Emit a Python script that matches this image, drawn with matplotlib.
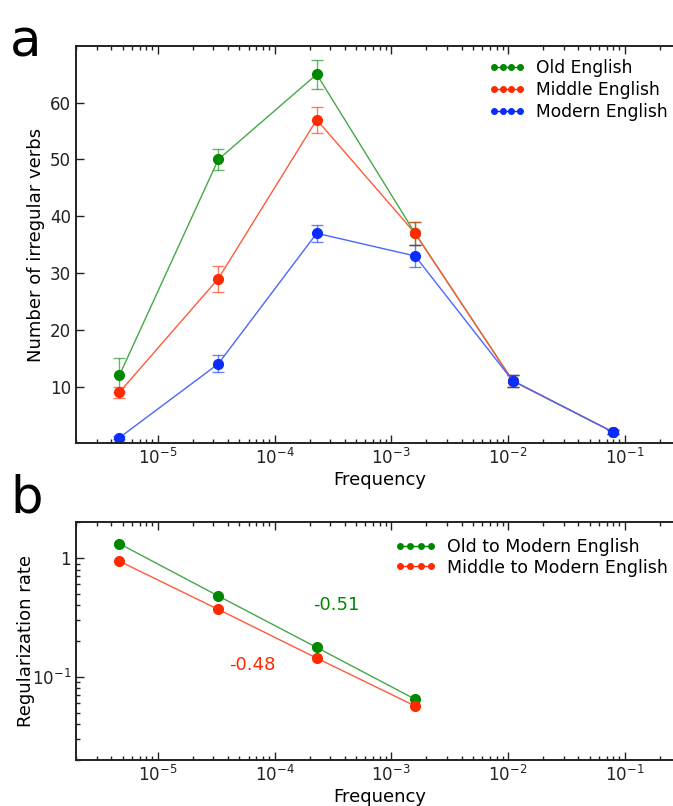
"""irregular verbs by frequency bin, Old / Middle / Modern English"""
import numpy as np
import matplotlib
matplotlib.use("Agg")
import matplotlib.pyplot as plt

# frequency bins (centres)
freq = [4.7e-6, 3.3e-5, 2.3e-4, 1.6e-3, 1.1e-2, 7.9e-2]

old_english = [12, 50, 65, 37, 11, 2]
old_err = [3.0, 1.8, 2.5, 2.0, 1.1, 0.3]
middle_english = [9, 29, 57, 37, 11, 2]
middle_err = [1.0, 2.3, 2.3, 2.0, 1.1, 0.3]
modern_english = [1, 14, 37, 33, 11, 2]
modern_err = [0.3, 1.5, 1.5, 2.0, 1.1, 0.3]

# regularization rates (first four bins)
rate_freq = freq[:4]
old_to_modern = [1.32, 0.48, 0.177, 0.065]
middle_to_modern = [0.94, 0.37, 0.144, 0.057]
slope_old = "-0.51"
slope_middle = "-0.48"

GREEN = "#008800"
RED = "#ff2a00"
BLUE = "#0a2cff"
# thinner connecting lines are drawn in lighter tones
LIGHT = {GREEN: "#45a845", RED: "#ff5a3a", BLUE: "#4a66ff"}

plt.rcParams["font.family"] = "DejaVu Sans"
plt.rcParams["xtick.direction"] = "in"
plt.rcParams["ytick.direction"] = "in"

fig = plt.figure(figsize=(6.73, 8.06), dpi=100)

ax1 = fig.add_axes([0.113, 0.450, 0.902, 0.493])
ax2 = fig.add_axes([0.113, 0.057, 0.902, 0.295])


def style_axis(ax):
    ax.set_xscale("log")
    ax.set_xlim(10 ** -5.7, 10 ** -0.5)
    ax.set_xticks([1e-5, 1e-4, 1e-3, 1e-2, 1e-1])
    ax.set_xticklabels([r"$\mathregular{10^{-%d}}$" % k for k in range(5, 0, -1)])
    ax.tick_params(which="both", top=True, right=True, labelsize=12, width=1, colors="#222222")
    ax.tick_params(which="major", length=6)
    ax.tick_params(which="minor", length=3)
    for s in ax.spines.values():
        s.set_linewidth(1.4)
        s.set_color("#222222")
    ax.set_xlabel("Frequency", fontsize=13, labelpad=2)


# panel a
series = [
    (old_english, old_err, GREEN, "Old English"),
    (middle_english, middle_err, RED, "Middle English"),
    (modern_english, modern_err, BLUE, "Modern English"),
]
for vals, err, col, lab in series:
    ax1.errorbar(freq, vals, yerr=err, fmt="none", ecolor=col, elinewidth=1,
                 capsize=4, capthick=1, alpha=0.6)
    ax1.plot(freq, vals, "-", color=LIGHT[col], lw=1)
    ax1.plot(freq, vals, "o", color=col, ms=7, mec=col)
    ax1.plot([], [], "-o", color=col, ms=4, lw=1, label=lab)

style_axis(ax1)
ax1.set_ylim(0, 70)
ax1.set_yticks([10, 20, 30, 40, 50, 60])
ax1.set_ylabel("Number of irregular verbs", fontsize=13)
ax1.legend(loc="upper right", bbox_to_anchor=(1.0, 1.005), frameon=False, numpoints=4,
           fontsize=12.3, handlelength=2.1, handletextpad=0.65, labelspacing=0.22)

# panel b
for vals, col, lab in [(old_to_modern, GREEN, "Old to Modern English"),
                       (middle_to_modern, RED, "Middle to Modern English")]:
    ax2.plot(rate_freq, vals, "-", color=LIGHT[col], lw=1)
    ax2.plot(rate_freq, vals, "o", color=col, ms=7, mec=col)
    ax2.plot([], [], "-o", color=col, ms=4, lw=1, label=lab)

style_axis(ax2)
ax2.set_yscale("log")
ax2.set_ylim(0.02, 2)
ax2.set_yticks([0.1, 1])
ax2.set_yticklabels([r"$\mathregular{10^{-1}}$", "1"])
ax2.tick_params(which="both", labelsize=12)
ax2.set_ylabel("Regularization rate", fontsize=13)
ax2.yaxis.set_label_coords(-0.068, 0.5)
ax2.text(3.4e-4, 0.40, slope_old, color=GREEN, fontsize=13, ha="center", va="center")
ax2.text(6.5e-5, 0.125, slope_middle, color=RED, fontsize=13, ha="center", va="center")
ax2.legend(loc="upper right", bbox_to_anchor=(1.0, 1.0), frameon=False, numpoints=4,
           fontsize=12.5, handlelength=2.4, handletextpad=0.6, labelspacing=0.15)

fig.text(0.015, 0.978, "a", fontsize=37, va="top", ha="left")
fig.text(0.015, 0.412, "b", fontsize=37, va="top", ha="left")

fig.savefig("out.png", dpi=100)
plt.close(fig)
